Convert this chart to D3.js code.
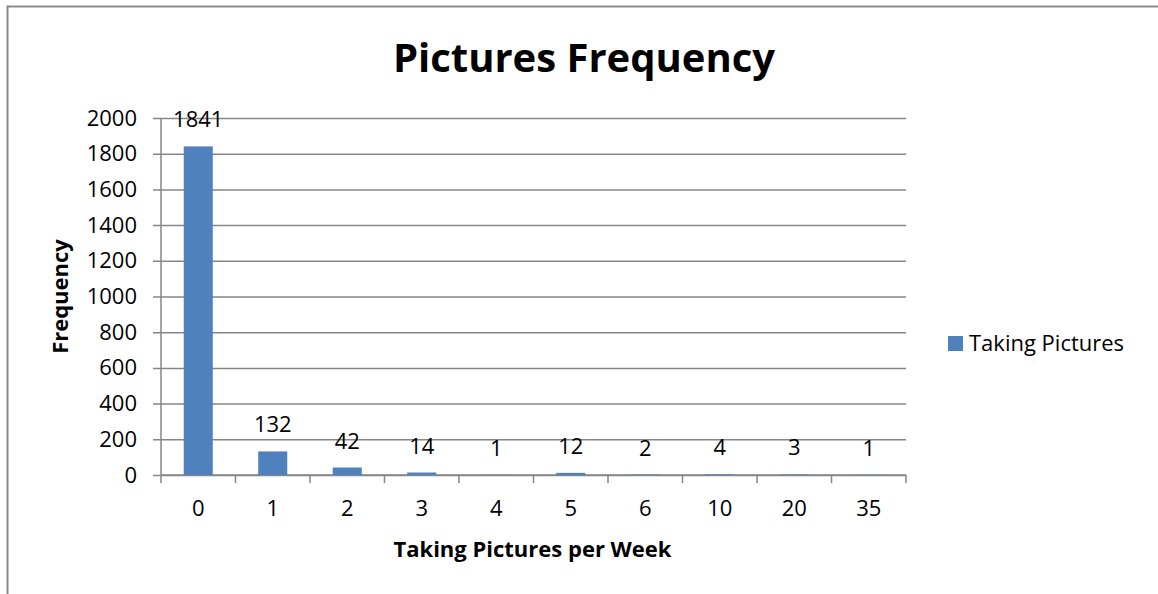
<!DOCTYPE html>
<html>
<head>
<meta charset="utf-8">
<script src="https://cdn.jsdelivr.net/npm/d3@7"></script>
<style>
  html, body { margin: 0; padding: 0; background: #fff; }
  svg { display: block; font-family: "Open Sans", "Noto Sans", sans-serif; }
</style>
</head>
<body>
<svg id="chart" width="1158" height="594"></svg>
<script>
// Weekly picture-taking frequency
const categories = ["0", "1", "2", "3", "4", "5", "6", "10", "20", "35"];
const counts = [1841, 132, 42, 14, 1, 12, 2, 4, 3, 1];
const yTicks = [0, 200, 400, 600, 800, 1000, 1200, 1400, 1600, 1800, 2000];
const seriesName = "Taking Pictures";

const svg = d3.select("#chart");
const W = 1158, H = 594;
const plot = { left: 161, right: 906, top: 118, bottom: 475 };
const barColor = "#4F81BD";
const gridColor = "#868686";
const fs = 22;

// outer chart border (continues past the right and bottom edges)
svg.append("rect")
  .attr("x", 7.5).attr("y", 6.5)
  .attr("width", W + 10).attr("height", H + 10)
  .attr("fill", "#fff").attr("stroke", "#8a8a8a").attr("stroke-width", 2);

const x = d3.scaleBand().domain(categories).range([plot.left, plot.right]).paddingInner(0.61).paddingOuter(0.305);
const xBand = d3.scaleBand().domain(categories).range([plot.left, plot.right]);
const y = d3.scaleLinear().domain([0, 2000]).range([plot.bottom, plot.top]);

// horizontal gridlines with tick stubs
const gy = svg.append("g").attr("transform", `translate(${plot.right},0)`);
gy.call(d3.axisLeft(y).tickValues(yTicks).tickSize(plot.right - plot.left + 8).tickFormat(""));
gy.select(".domain").remove();
gy.selectAll(".tick line").attr("stroke", gridColor).attr("stroke-width", 1.5);

// y tick labels
const gyl = svg.append("g").attr("transform", `translate(${plot.left - 8},0)`);
gyl.call(d3.axisLeft(y).tickValues(yTicks).tickSize(0).tickPadding(16).tickFormat(d3.format("d")));
gyl.select(".domain").remove();
gyl.selectAll("text").attr("font-size", fs).attr("fill", "#000").attr("font-family", "'Open Sans', sans-serif");

// vertical axis line
svg.append("line")
  .attr("x1", plot.left).attr("x2", plot.left)
  .attr("y1", plot.top).attr("y2", plot.bottom)
  .attr("stroke", gridColor).attr("stroke-width", 1.5);

// x axis with category boundary ticks
const gx = svg.append("g").attr("transform", `translate(0,${plot.bottom})`);
gx.append("line").attr("x1", plot.left).attr("x2", plot.right)
  .attr("stroke", gridColor).attr("stroke-width", 1.5);
const boundaries = categories.map(c => xBand(c)).concat([xBand(categories[categories.length - 1]) + xBand.bandwidth()]);
gx.selectAll("line.tk").data(boundaries).join("line").attr("class", "tk")
  .attr("x1", d => d).attr("x2", d => d).attr("y1", 0).attr("y2", 8)
  .attr("stroke", gridColor).attr("stroke-width", 1.5);
gx.selectAll("text.cat").data(categories).join("text").attr("class", "cat")
  .attr("x", d => xBand(d) + xBand.bandwidth() / 2).attr("y", 41)
  .attr("text-anchor", "middle").attr("font-size", fs).attr("fill", "#000")
  .text(d => d);

// bars
svg.selectAll("rect.bar").data(counts).join("rect").attr("class", "bar")
  .attr("x", (d, i) => x(categories[i]))
  .attr("width", x.bandwidth())
  .attr("y", d => y(d))
  .attr("height", d => plot.bottom - y(d))
  .attr("fill", barColor);

// value labels
svg.selectAll("text.val").data(counts).join("text").attr("class", "val")
  .attr("x", (d, i) => xBand(categories[i]) + xBand.bandwidth() / 2)
  .attr("y", d => y(d) - 19)
  .attr("text-anchor", "middle").attr("font-size", fs).attr("fill", "#000")
  .text(d => d);

// title
svg.append("text").attr("x", 584).attr("y", 72)
  .attr("text-anchor", "middle").attr("font-size", 40).attr("font-weight", "bold")
  .attr("fill", "#000").text("Pictures Frequency");

// axis titles
svg.append("text").attr("x", (plot.left + plot.right) / 2 - 1).attr("y", 557)
  .attr("text-anchor", "middle").attr("font-size", fs).attr("font-weight", "bold")
  .attr("fill", "#000").text("Taking Pictures per Week");
svg.append("text").attr("transform", `translate(68,${(plot.top + plot.bottom) / 2}) rotate(-90)`)
  .attr("text-anchor", "middle").attr("font-size", fs).attr("font-weight", "bold")
  .attr("fill", "#000").text("Frequency");

// legend
const lg = svg.append("g").attr("transform", "translate(948,336)");
lg.append("rect").attr("width", 15).attr("height", 15).attr("fill", barColor);
lg.append("text").attr("x", 21).attr("y", 15).attr("font-size", fs).attr("fill", "#000").text(seriesName);
</script>
</body>
</html>
